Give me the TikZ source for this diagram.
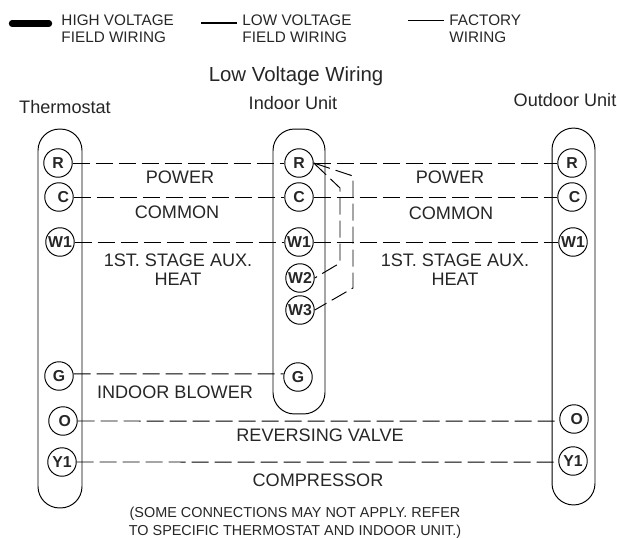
\documentclass[tikz,border=0pt]{standalone}
\usepackage{fontspec}
\setmainfont{Liberation Sans}
\begin{document}
\begin{tikzpicture}[
        x=0.02cm,y=-0.02cm,
        line width=0.55pt,
        every node/.style={font=\fontsize{10.3}{10.8}\selectfont,text=black!85,inner sep=0pt},
        unit/.style={draw,rectangle,minimum width=#1,rounded corners=0.43cm,text=black},
        terminal/.style={draw,circle,minimum size=0.57cm,font=\fontsize{9}{9}\selectfont\bfseries},
        wire/.style={dash pattern=on 0.34cm off 0.12cm},
        legendtext/.style={align=left,anchor=west,font=\fontsize{8.7}{9.6}\selectfont},
        title/.style={font=\fontsize{10.3}{11}\selectfont}
    ]
    \useasboundingbox (0,0) rectangle (617,537);

    % Legend
    \coordinate (HighA) at (12,23.5);
    \coordinate (HighB) at (49,23.5);
    \coordinate (LowA) at (201,23);
    \coordinate (LowB) at (237,23);
    \coordinate (FactoryA) at (408,20);
    \coordinate (FactoryB) at (444,20);
    \draw[line width=3.6pt,line cap=round] (HighA) -- (HighB);
    \draw[line width=1.2pt] (LowA) -- (LowB);
    \draw (FactoryA) -- (FactoryB);
    \node[legendtext] (hightext) at (61,28.5) {HIGH VOLTAGE\\FIELD WIRING};
    \node[legendtext] (lowtext) at (242,28.5) {LOW VOLTAGE\\FIELD WIRING};
    \node[legendtext] (factorytext) at (449,28.5) {FACTORY\\WIRING};

    % Titles
    \node[font=\fontsize{11.6}{12}\selectfont] (maintitle) at (296,76) {Low Voltage Wiring};
    \node[title] (thermotitle) at (65,107) {Thermostat};
    \node[title] (indoortitle) at (293,103) {Indoor Unit};
    \node[title] (outdoortitle) at (565,100) {Outdoor Unit};

    % Units
    \node[unit=0.88cm,minimum height=7.58cm] (thermostat) at (60,318.5) {};
    \node[unit=1.04cm,minimum height=5.70cm] (indoor) at (299,271.5) {};
    \node[unit=0.86cm,minimum height=7.54cm] (outdoor) at (573.5,316.5) {};

    % Thermostat terminals
    \node[terminal] (tR) at (58,163) {R};
    \node[terminal] (tC) at (59,197) {\hspace*{5pt}C};
    \node[terminal] (tW) at (60,242) {W1};
    \node[terminal] (tG) at (59,376) {G};
    \node[terminal] (tO) at (63,421) {\hspace*{2pt}O};
    \node[terminal] (tY) at (62,462) {Y1};

    % Indoor terminals
    \node[terminal] (iR) at (299,163) {R};
    \node[terminal] (iC) at (299,197) {C};
    \node[terminal] (iW) at (299,242) {W1};
    \node[terminal] (iWb) at (300,278) {W2};
    \node[terminal] (iWc) at (300,310) {W3};
    \node[terminal] (iG) at (298,377) {G};

    % Outdoor terminals
    \node[terminal] (oR) at (572,163) {R};
    \node[terminal] (oC) at (572,197) {\hspace*{3pt}C};
    \node[terminal] (oW) at (573,242) {W1};
    \node[terminal] (oO) at (574,419) {\hspace*{3pt}O};
    \node[terminal] (oY) at (573,461) {Y1};

    % Wires
    \draw[wire] (tR) -- (iR);
    \draw[wire] (tC) -- (iC);
    \draw[wire] (tW) -- (iW);
    \draw[wire] (tG.8) -- (iG.168);
    \draw[wire] (iR) -- (oR);
    \draw[wire] (iC) -- (oC);
    \draw[wire] (iW) -- (oW);
    \draw[wire] (tO) -- (oO.188);
    \draw[wire] (tY) -- (oY.184);

    % Jumpers
    \coordinate (JumpA) at (340,188);
    \coordinate (JumpB) at (340,263);
    \coordinate (JumpC) at (353,176);
    \coordinate (JumpD) at (353,288);
    \draw[wire] (iR.east) -- (JumpA) -- (JumpB) -- (iWb.east);
    \draw[wire] (iR.east) -- (JumpC) -- (JumpD) -- (iWc.east);

    % Wire labels
    \node (powerl) at (180,177) {POWER};
    \node (commonl) at (177,212) {COMMON};
    \node[align=center] (heatl) at (178,269.5) {1ST. STAGE AUX.\\HEAT};
    \node (blowerl) at (175,392) {INDOOR BLOWER};
    \node (powerr) at (450,177) {POWER};
    \node (commonr) at (451,213) {COMMON};
    \node[align=center] (heatr) at (455,269.5) {1ST. STAGE AUX.\\HEAT};
    \node (valvel) at (320,435) {REVERSING VALVE};
    \node (compl) at (318,480) {COMPRESSOR};
    \node[align=center,font=\fontsize{8.2}{10.4}\selectfont] (notel) at (295,522.5) {(SOME CONNECTIONS MAY NOT APPLY. REFER\\TO SPECIFIC THERMOSTAT AND INDOOR UNIT.)};

\end{tikzpicture}
\end{document}
